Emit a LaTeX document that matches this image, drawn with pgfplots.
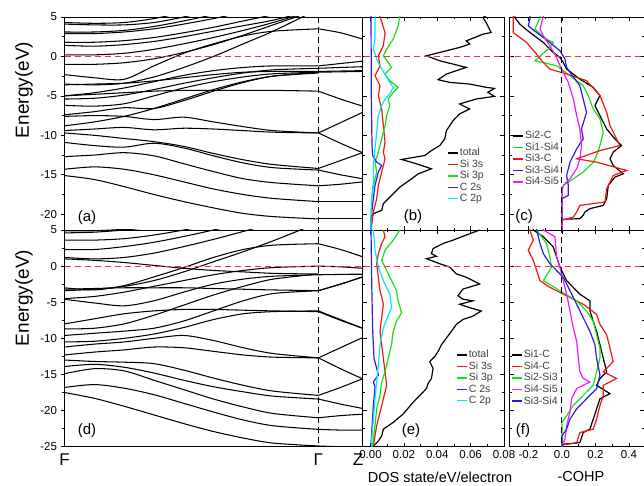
\documentclass[border=0pt]{standalone}
\usepackage{fontspec}
\setmainfont{Liberation Sans}
\usepackage{pgfplots}
\usepackage{pgfplotstable}
\pgfplotsset{compat=1.18}
\definecolor{cred}{RGB}{245,20,20}
\definecolor{cgreen}{RGB}{20,225,20}
\definecolor{cblue}{RGB}{40,30,225}
\definecolor{ccyan}{RGB}{0,230,250}
\definecolor{cmag}{RGB}{250,20,250}
\definecolor{zred}{RGB}{250,40,70}

\pgfplotsset{
  legend image code/.code={\draw[#1, line width=1.5pt] (0pt,0pt) -- (10pt,0pt);},
  base/.style={scale only axis, anchor=south west, clip mode=individual,
    axis line style={line width=0.8pt},
    every tick/.style={black, line width=0.6pt},
    major tick length=4pt, minor tick length=2.2pt,
    tick label style={font=\fontsize{11.5}{13}\selectfont},
    scaled x ticks=false, scaled y ticks=false,
    /pgf/number format/assume math mode=true},
  bd/.style={black, line width=1.05pt, smooth, tension=0.5, forget plot},
  dl/.style={line width=1.2pt},
  zl/.style={zred, line width=1pt, dash pattern=on 6pt off 4pt, forget plot},
  gl/.style={black, line width=1pt, dash pattern=on 6pt off 4pt, forget plot},
  lg/.style={legend style={at={#1}, anchor=north west, draw=none, fill=none,
      inner sep=0pt, font=\fontsize{10.5}{11}\selectfont, text=black!75,
      row sep=0pt, nodes={inner sep=1.2pt}},
    legend cell align=left},
}

\pgfplotstableread{
k A1 A2 A3 A4 A5 A6 A7 H L0 L1 C1 C2 C3 C4 D1 R1 R2 M1 M2 N1 N2 N3 B2 B1
0 4.3 4.1 3.1 2.9 1.8 1.4 0.2 -2.3 -1.0 -3.5 -5.0 -5.4 -3.6 -6.2 -5.0 -7.4 -8.8 -7.6 -9.4 -9.7 -10.9 -12.7 -14.3 -15.1
0.1 4.2 4.0 3.1 2.9 1.8 1.3 0.2 -2.7 -1.0 -3.6 -4.6 -5.3 -3.5 -6.3 -4.8 -7.0 -8.3 -7.5 -9.2 -10.0 -11.3 -12.5 -14.0 -15.6
0.2 4.3 4.0 3.3 3.1 2.0 1.5 0.4 -2.9 -0.8 -3.4 -4.0 -4.9 -3.4 -6.0 -4.6 -6.5 -7.6 -7.6 -9.0 -10.4 -11.5 -12.2 -14.3 -16.5
0.3 4.8 4.3 3.8 3.5 2.4 1.9 0.9 -1.2 -0.3 -2.6 -3.2 -4.2 -3.1 -5.0 -4.4 -6.6 -6.6 -8.0 -9.3 -10.8 -11.0 -12.6 -15.0 -17.5
0.4 5.6 5.0 4.5 4.1 3.0 2.5 1.6 0.4 0.5 -1.4 -2.4 -3.4 -2.7 -4.0 -4.3 -5.6 -5.4 -7.7 -9.1 -11.4 -11.6 -13.6 -15.9 -18.4
0.5 6.5 5.9 5.3 4.8 3.7 3.2 2.4 1.6 1.5 0.0 -1.8 -2.7 -2.3 -3.2 -4.3 -4.4 -4.2 -8.3 -9.2 -12.3 -12.6 -14.6 -16.8 -19.2
0.6 7.4 6.8 6.2 5.6 4.5 3.9 3.3 2.6 2.7 1.6 -1.4 -2.1 -2.0 -2.6 -4.3 -3.3 -3.2 -8.9 -9.4 -13.1 -13.5 -15.5 -17.5 -19.9
0.7 8.3 7.7 7.1 6.5 5.3 4.6 4.3 3.2 4.0 3.2 -1.2 -1.7 -1.9 -2.2 -4.3 -2.5 -2.5 -9.4 -9.6 -13.7 -14.1 -16.0 -18.0 -20.3
0.852 9.5 9.0 8.5 8.0 6.8 6.0 6.0 3.5 6.0 6.0 -1.2 -1.5 -1.9 -2.0 -4.4 -2.0 -2.1 -9.7 -9.7 -14.2 -14.4 -16.4 -18.4 -20.6
}\tabAFG
\pgfplotstableread{
k H C1 C2 C3 C4 D1 M1 M2 N1 N2 N3 B2 B1
0.852 3.5 -1.2 -1.5 -1.9 -2.0 -4.4 -9.7 -9.7 -14.2 -14.4 -16.4 -18.4 -20.6
0.926 3.0 -0.9 -1.4 -1.85 -1.95 -5.4 -8.4 -11.0 -13.2 -15.0 -16.2 -18.4 -20.6
1 2.2 -0.6 -1.3 -1.8 -1.9 -6.3 -7.1 -12.2 -12.2 -15.5 -15.9 -18.4 -20.6
}\tabAGZ
\pgfplotstableread{
k T1 T2 T3 T4 T5 T6 H L1 L2 L3 F1 G1 R1 R2 M3 M1 M2 P1 P2 P3 P4 P5
0 4.9 4.6 3.6 2.3 1.2 1.0 -3.0 -3.4 -4.5 -4.6 -3.2 -8.0 -8.7 -9.6 -10.5 -11.2 -12.3 -13.0 -13.9 -14.9 -16.8 -17.5
0.1 4.9 4.7 3.6 2.3 1.0 0.8 -3.3 -3.2 -4.2 -5.1 -3.1 -7.3 -8.6 -9.3 -10.4 -10.8 -11.9 -13.2 -13.6 -14.2 -16.4 -18.3
0.2 5.1 5.0 3.8 2.7 1.2 0.5 -2.7 -2.8 -3.6 -5.5 -3.0 -6.6 -8.0 -9.0 -10.0 -10.5 -11.6 -13.3 -14.0 -14.5 -16.9 -19.4
0.3 5.5 5.4 4.3 3.3 1.8 0.1 -1.5 -2.0 -2.8 -4.8 -3.0 -6.2 -6.8 -8.6 -9.4 -10.0 -11.2 -13.5 -14.8 -15.8 -17.8 -20.6
0.4 6.0 6.0 5.0 4.1 2.7 -0.3 -0.2 -0.8 -2.0 -3.6 -3.0 -6.0 -5.4 -7.6 -8.5 -9.6 -11.3 -14.4 -15.8 -17.1 -19.0 -21.8
0.5 6.5 6.6 5.8 5.0 3.7 -0.6 1.2 0.6 -1.2 -2.5 -3.1 -6.0 -4.0 -6.2 -7.4 -10.3 -11.8 -15.5 -16.7 -18.4 -20.2 -22.9
0.6 7.0 7.2 6.6 5.9 4.8 -0.8 2.3 2.0 -0.6 -1.8 -3.2 -6.1 -2.8 -4.8 -6.6 -11.3 -12.3 -16.5 -17.4 -19.5 -21.3 -23.8
0.7 7.5 7.8 7.4 6.8 5.9 -1.0 2.9 3.5 -0.2 -1.4 -3.3 -6.2 -1.8 -3.8 -6.3 -12.1 -12.6 -17.3 -18.0 -20.4 -22.1 -24.5
0.852 8.0 8.5 8.5 8.0 7.5 -1.1 3.1 6.0 0.0 -1.2 -3.4 -6.3 -1.1 -3.4 -6.2 -12.7 -12.7 -17.9 -18.4 -21.0 -22.6 -24.9
}\tabDFG
\pgfplotstableread{
k T6 H L2 L3 F1 G1 R1 R2 M3 M1 M2 P1 P2 P3 P4 P5
0.852 -1.1 3.1 0.0 -1.2 -3.4 -6.3 -1.1 -3.4 -6.2 -12.7 -12.7 -17.9 -18.4 -21.0 -22.6 -24.9
0.926 -1.1 2.3 -0.1 -1.15 -2.5 -7.5 -1.1 -2.5 -7.4 -11.3 -14.2 -16.8 -19.1 -20.7 -22.7 -25.0
1 -1.1 1.3 -0.3 -1.1 -1.5 -8.6 -1.1 -1.5 -8.6 -9.9 -15.6 -15.6 -19.7 -20.5 -22.7 -25.0
}\tabDGZ

\begin{document}
\begin{tikzpicture}[x=1pt,y=1pt]
\useasboundingbox (0,0) rectangle (644,486);

% ---------- (a) band structure top
\begin{axis}[base, at={(64.5pt,256pt)}, width=298pt, height=213pt,
  xmin=0, xmax=1, ymin=-22, ymax=5, xtick=\empty,
  ytick={-20,-15,-10,-5,0,5}, minor y tick num=1, tick align=outside, ytick pos=left]
\pgfplotsinvokeforeach{A1,A2,A3,A4,A5,A6,A7,H,L0,L1,C1,C2,C3,C4,D1,R1,R2,M1,M2,N1,N2,N3,B2,B1}{
  \addplot[bd] table[x=k,y=#1]{\tabAFG};}
\pgfplotsinvokeforeach{H,C1,C2,C3,C4,D1,M1,M2,N1,N2,N3,B2,B1}{
  \addplot[bd] table[x=k,y=#1]{\tabAGZ};}
\addplot[zl] coordinates {(0,0)(1,0)};
\addplot[gl] coordinates {(0.852,-30)(0.852,10)};
\node[font=\fontsize{15}{15}\selectfont] at (rel axis cs:0.0755,0.056) {(a)};
\end{axis}

% ---------- (d) band structure bottom
\begin{axis}[base, at={(64.5pt,39.3pt)}, width=298pt, height=216.7pt,
  xmin=0, xmax=1, ymin=-25, ymax=5, xtick={0,0.852,1}, xticklabels={F,Γ,{\hspace*{-9pt}Z}},
  xticklabel style={font=\fontsize{17}{17}\selectfont},
  x tick style={draw=none},
  ytick={-25,-20,-15,-10,-5,0,5}, minor y tick num=1, tick align=outside, ytick pos=left]
\pgfplotsinvokeforeach{T1,T2,T3,T4,T5,T6,H,L1,L2,L3,F1,G1,R1,R2,M3,M1,M2,P1,P2,P3,P4,P5}{
  \addplot[bd] table[x=k,y=#1]{\tabDFG};}
\pgfplotsinvokeforeach{T6,H,L2,L3,F1,G1,R1,R2,M3,M1,M2,P1,P2,P3,P4,P5}{
  \addplot[bd] table[x=k,y=#1]{\tabDGZ};}
\addplot[zl] coordinates {(0,0)(1,0)};
\addplot[gl] coordinates {(0.852,-30)(0.852,10)};
\node[font=\fontsize{15}{15}\selectfont] at (rel axis cs:0.0755,0.072) {(d)};
\end{axis}

% ---------- (b) DOS top
\begin{axis}[base, at={(362.5pt,256pt)}, width=141.5pt, height=213pt,
  xmin=-0.0048, xmax=0.08, ymin=-22, ymax=5,
  xtick={0,0.02,0.04,0.06,0.08}, xticklabels={}, minor x tick num=1,
  ytick={-20,-15,-10,-5,0,5}, yticklabels={}, minor y tick num=1, tick align=inside,
  lg={(rel axis cs:0.597,0.39)}]
\addplot[dl, black] coordinates {(0.0694,5.2)(0.0674,4.93)(0.0693,4.30)(0.0723,3.03)(0.0674,2.82)(0.0574,1.98)(0.0594,1.56)(0.0534,1.14)(0.0455,0.72)(0.0335,0.08)(0.0415,-0.55)(0.0495,-0.97)(0.0574,-1.39)(0.0514,-1.81)(0.0455,-2.23)(0.0405,-2.95)(0.0475,-3.29)(0.0594,-3.50)(0.0694,-3.92)(0.0743,-4.05)(0.0703,-4.55)(0.0743,-5.06)(0.0634,-5.39)(0.0534,-6.03)(0.0594,-6.66)(0.0534,-7.29)(0.0495,-8.13)(0.0455,-9.40)(0.0445,-10.45)(0.0415,-11.29)(0.0365,-11.93)(0.0325,-12.56)(0.0186,-13.06)(0.0276,-13.61)(0.0365,-14.24)(0.0286,-14.88)(0.0246,-15.51)(0.0176,-16.56)(0.0126,-17.61)(0.0077,-18.67)(0.0067,-19.51)(0.0017,-19.93)(0.0003,-20.56)(0.0003,-22.2)};
\addplot[dl, cred] coordinates {(0.0057,5.2)(0.0057,5.06)(0.0087,3.03)(0.0077,1.35)(0.0047,0.08)(0.0057,-1.18)(0.0027,-2.44)(0.0057,-3.71)(0.0047,-4.97)(0.0067,-6.66)(0.0077,-8.77)(0.0087,-10.87)(0.0077,-12.14)(0.0087,-12.98)(0.0067,-14.66)(0.0047,-16.35)(0.0037,-18.04)(0.0017,-19.72)(0.0007,-21.41)(0.0005,-22.2)};
\addplot[dl, cgreen] coordinates {(0.0176,5.2)(0.0176,5.06)(0.0166,3.88)(0.0136,2.19)(0.0097,0.93)(0.0077,0.08)(0.0106,-0.76)(0.0126,-1.39)(0.0087,-2.23)(0.0116,-3.08)(0.0166,-3.92)(0.0136,-4.55)(0.0106,-5.39)(0.0116,-6.24)(0.0097,-7.50)(0.0087,-8.77)(0.0067,-10.45)(0.0047,-12.14)(0.0027,-13.40)(0.0037,-14.66)(0.0017,-16.35)(0.0007,-18.04)(0.0003,-20.56)(0.0003,-22.2)};
\addplot[dl, cblue] coordinates {(0.0003,5.2)(0.0005,-5.39)(0.0009,-11.29)(0.0013,-12.56)(0.0037,-13.40)(0.0067,-13.82)(0.0047,-14.66)(0.0027,-16.35)(0.0017,-18.04)(0.0003,-20.56)(0.0003,-22.2)};
\addplot[dl, ccyan] coordinates {(0.0027,5.2)(0.0027,2.19)(0.0017,0.93)(0.0037,-0.34)(0.0067,-1.60)(0.0097,-2.65)(0.0136,-3.92)(0.0116,-4.76)(0.0087,-5.39)(0.0067,-6.24)(0.0047,-7.50)(0.0037,-9.61)(0.0027,-11.72)(0.0017,-13.82)(0.0017,-15.93)(0.0007,-18.04)(0.0003,-20.56)(0.0003,-22.2)};
\legend{total, Si 3s, Si 3p, C 2s, C 2p}
\addplot[zl] coordinates {(-0.01,0)(0.09,0)};
\node[font=\fontsize{15}{15}\selectfont] at (rel axis cs:0.357,0.061) {(b)};
\end{axis}

% ---------- (e) DOS bottom
\begin{axis}[base, at={(362.5pt,39.3pt)}, width=141.5pt, height=216.7pt,
  xmin=-0.0048, xmax=0.08, ymin=-25, ymax=5,
  xtick={0,0.02,0.04,0.06,0.08}, minor x tick num=1,
  xticklabel style={/pgf/number format/fixed, /pgf/number format/fixed zerofill, /pgf/number format/precision=2},
  ytick={-25,-20,-15,-10,-5,0,5}, yticklabels={}, minor y tick num=1, tick align=inside,
  lg={(rel axis cs:0.66,0.451)}]
\addplot[dl, black] coordinates {(0.0654,5.0)(0.0574,4.30)(0.0495,3.60)(0.0435,3.13)(0.0375,2.43)(0.0365,1.73)(0.0395,1.36)(0.0335,1.03)(0.0415,0.33)(0.0475,-0.14)(0.0514,-1.07)(0.0574,-1.54)(0.0614,-2.01)(0.0654,-2.48)(0.0554,-3.18)(0.0524,-4.11)(0.0554,-4.58)(0.0614,-4.81)(0.0534,-5.28)(0.0594,-5.75)(0.0664,-6.21)(0.0614,-6.92)(0.0554,-7.38)(0.0514,-8.08)(0.0485,-9.02)(0.0455,-9.95)(0.0425,-10.89)(0.0405,-11.82)(0.0385,-12.52)(0.0355,-13.22)(0.0375,-14.16)(0.0365,-15.56)(0.0345,-16.26)(0.0335,-16.96)(0.0296,-17.90)(0.0256,-18.83)(0.0196,-20.47)(0.0136,-21.64)(0.0077,-22.57)(0.0067,-23.50)(0.0047,-24.21)(0.0017,-24.91)};
\addplot[dl, cred] coordinates {(0.0077,5.0)(0.0087,4.07)(0.0067,3.13)(0.0047,1.73)(0.0037,0.33)(0.0047,-1.54)(0.0057,-3.41)(0.0077,-5.28)(0.0067,-7.15)(0.0057,-9.02)(0.0067,-10.89)(0.0077,-12.76)(0.0087,-14.63)(0.0097,-16.50)(0.0077,-18.36)(0.0057,-20.23)(0.0037,-22.10)(0.0027,-23.50)(0.0017,-24.91)};
\addplot[dl, cgreen] coordinates {(0.0176,5.0)(0.0136,3.60)(0.0087,2.20)(0.0067,0.79)(0.0097,-0.61)(0.0126,-2.01)(0.0156,-3.41)(0.0166,-4.81)(0.0186,-6.45)(0.0156,-7.62)(0.0136,-9.02)(0.0126,-10.89)(0.0106,-12.76)(0.0087,-14.63)(0.0067,-16.03)(0.0057,-17.90)(0.0037,-19.77)(0.0027,-22.10)(0.0017,-23.97)(0.0010,-25)};
\addplot[dl, cblue] coordinates {(0.0003,5.0)(0.0007,-2.01)(0.0013,-9.02)(0.0021,-12.76)(0.0037,-14.16)(0.0047,-15.09)(0.0017,-16.03)(0.0027,-16.73)(0.0017,-19.30)(0.0007,-23.04)(0.0003,-25)};
\addplot[dl, ccyan] coordinates {(0.0017,5.0)(0.0027,2.20)(0.0047,-0.14)(0.0077,-2.01)(0.0116,-3.88)(0.0126,-5.75)(0.0106,-6.92)(0.0077,-8.55)(0.0057,-10.89)(0.0047,-13.69)(0.0037,-16.03)(0.0027,-18.36)(0.0017,-21.17)(0.0007,-23.97)(0.0005,-25)};
\legend{total, Si 3s, Si 3p, C 2s, C 2p}
\addplot[zl] coordinates {(-0.01,0)(0.09,0)};
\node[font=\fontsize{15}{15}\selectfont] at (rel axis cs:0.343,0.072) {(e)};
\end{axis}

% ---------- (c) COHP top
\begin{axis}[base, at={(509.5pt,256pt)}, width=134.5pt, height=213pt,
  xmin=-0.313, xmax=0.49, ymin=-22, ymax=5,
  xtick={-0.2,0,0.2,0.4}, xticklabels={}, minor x tick num=1,
  ytick={-20,-15,-10,-5,0,5}, yticklabels={}, minor y tick num=1, tick align=inside,
  lg={(rel axis cs:0.02,0.47)}]
\addplot[dl, black] coordinates {(-0.281,5.2)(-0.281,4.93)(-0.251,4.09)(-0.191,3.03)(-0.111,1.77)(-0.052,0.51)(-0.012,-0.13)(0.008,-0.76)(0.028,-1.60)(0.107,-2.87)(0.187,-3.92)(0.227,-4.97)(0.197,-6.24)(0.227,-7.50)(0.267,-9.19)(0.316,-10.45)(0.356,-11.29)(0.306,-12.14)(0.287,-12.98)(0.306,-13.82)(0.366,-14.88)(0.316,-15.30)(0.277,-16.35)(0.267,-18.04)(0.247,-18.88)(0.167,-19.30)(0.137,-19.72)(0.127,-20.14)(0.107,-20.56)(0,-20.65)(0,-22)};
\addplot[dl, cgreen] coordinates {(-0.131,5.2)(-0.131,4.93)(-0.161,3.46)(-0.092,2.19)(-0.052,1.77)(-0.072,1.14)(-0.161,-0.55)(-0.032,-1.18)(0.048,-2.44)(0.127,-3.71)(0.157,-4.97)(0.187,-6.66)(0.227,-7.92)(0.247,-9.61)(0.227,-11.29)(0.207,-12.56)(0.187,-13.40)(0.127,-14.66)(0.068,-15.51)(0.008,-16.35)(0,-17.19)(0,-22)};
\addplot[dl, cred] coordinates {(-0.291,5.2)(-0.291,3.03)(-0.211,1.77)(-0.151,0.29)(-0.121,-0.55)(-0.072,-1.60)(0.028,-2.23)(0.147,-3.08)(0.227,-4.97)(0.267,-7.08)(0.287,-8.77)(0.346,-11.29)(0.227,-11.93)(0.088,-12.98)(0.207,-13.40)(0.386,-14.45)(0.306,-15.09)(0.267,-16.77)(0.257,-18.46)(0.107,-18.88)(0.088,-19.72)(0.068,-20.35)(0,-20.78)(0,-22)};
\addplot[dl, cblue] coordinates {(-0.191,5.2)(-0.191,4.72)(-0.201,3.88)(-0.151,3.03)(-0.072,1.77)(-0.012,0.72)(0.018,-0.34)(0.028,-1.39)(0.048,-2.02)(0.107,-3.71)(0.127,-5.39)(0.147,-7.08)(0.117,-9.19)(0.127,-10.45)(0.088,-11.72)(0.048,-13.40)(0.028,-15.09)(0.038,-16.35)(0.038,-17.61)(0,-18.04)(0,-22)};
\addplot[dl, cmag] coordinates {(-0.111,5.2)(-0.111,5.14)(-0.131,3.46)(-0.111,2.61)(-0.072,1.35)(-0.032,-0.13)(-0.012,-1.18)(0.038,-3.29)(0.068,-5.39)(0.088,-7.50)(0.107,-9.19)(0.117,-11.29)(0.107,-12.98)(0.088,-14.24)(0.048,-15.51)(0.008,-16.35)(0,-17.19)(0,-22)};
\legend{Si2-C, Si1-Si4, Si3-C, Si3-Si4, Si4-Si5}
\addplot[zl] coordinates {(-0.4,0)(0.6,0)};
\addplot[gl] coordinates {(0,-30)(0,10)};
\node[font=\fontsize{15}{15}\selectfont] at (rel axis cs:0.108,0.061) {(c)};
\end{axis}

% ---------- (f) COHP bottom
\begin{axis}[base, at={(509.5pt,39.3pt)}, width=134.5pt, height=216.7pt,
  xmin=-0.313, xmax=0.49, ymin=-25, ymax=5,
  xtick={-0.2,0,0.2,0.4}, minor x tick num=1,
  xticklabel style={/pgf/number format/fixed, /pgf/number format/fixed zerofill, /pgf/number format/precision=1},
  ytick={-25,-20,-15,-10,-5,0,5}, yticklabels={}, minor y tick num=1, tick align=inside,
  lg={(rel axis cs:0.01,0.451)}]
\addplot[dl, black] coordinates {(-0.171,5.2)(-0.171,5.0)(-0.111,4.07)(-0.052,2.66)(-0.032,1.26)(-0.012,-0.14)(0.028,-2.01)(0.107,-3.88)(0.167,-4.81)(0.167,-6.21)(0.187,-7.62)(0.207,-9.02)(0.227,-10.89)(0.247,-12.76)(0.267,-14.63)(0.227,-15.56)(0.207,-16.50)(0.287,-17.66)(0.227,-18.36)(0.207,-19.77)(0.187,-21.17)(0.167,-22.57)(0.127,-23.04)(0.107,-24.44)(0,-24.67)(0,-25)};
\addplot[dl, cred] coordinates {(-0.191,5.2)(-0.191,5.0)(-0.171,3.60)(-0.201,2.20)(-0.171,0.79)(-0.151,-0.61)(-0.131,-2.01)(-0.072,-2.94)(0.028,-4.11)(0.127,-5.28)(0.207,-6.68)(0.227,-8.08)(0.267,-9.49)(0.287,-11.36)(0.306,-13.22)(0.247,-14.63)(0.326,-15.56)(0.247,-16.50)(0.247,-17.90)(0.227,-19.30)(0.207,-21.17)(0.187,-22.57)(0.107,-23.04)(0.088,-24.44)(0,-24.81)(0,-25)};
\addplot[dl, cgreen] coordinates {(-0.151,5.2)(-0.151,5.0)(-0.092,3.13)(-0.072,1.26)(-0.062,-0.14)(-0.111,-2.01)(-0.012,-3.41)(0.088,-4.81)(0.147,-6.21)(0.187,-7.62)(0.207,-9.49)(0.227,-11.36)(0.227,-12.76)(0.207,-14.63)(0.187,-16.50)(0.127,-17.90)(0.068,-19.30)(0.028,-20.70)(0,-21.64)(0,-25)};
\addplot[dl, cmag] coordinates {(-0.111,5.2)(-0.111,5.0)(-0.042,4.07)(-0.032,1.26)(-0.012,-0.14)(0.008,-2.01)(0.028,-3.88)(0.048,-6.21)(0.068,-8.55)(0.088,-10.42)(0.098,-12.76)(0.107,-14.63)(0.127,-15.56)(0.167,-16.03)(0.088,-16.96)(0.058,-18.36)(0.048,-20.23)(0.028,-22.10)(0.018,-23.97)(0,-24.91)(0,-25)};
\addplot[dl, cblue] coordinates {(-0.151,5.2)(-0.151,5.0)(-0.131,3.13)(-0.111,1.73)(-0.072,0.33)(0.008,-1.54)(0.048,-3.41)(0.088,-5.28)(0.127,-7.15)(0.167,-9.02)(0.197,-10.89)(0.207,-12.76)(0.227,-15.09)(0.207,-16.96)(0.147,-18.36)(0.088,-19.77)(0.048,-21.17)(0.028,-22.57)(0,-23.50)(0,-25)};
\legend{Si1-C, Si4-C, Si2-Si3, Si4-Si5, Si3-Si4}
\addplot[zl] coordinates {(-0.4,0)(0.6,0)};
\addplot[gl] coordinates {(0,-30)(0,10)};
\node[font=\fontsize{15}{15}\selectfont] at (rel axis cs:0.10,0.072) {(f)};
\end{axis}

\node[rotate=90, font=\fontsize{19}{19}\selectfont] at (24,396) {Energy(eV)};
\node[rotate=90, font=\fontsize{19}{19}\selectfont] at (24,188) {Energy(eV)};
\node[font=\fontsize{14.5}{15}\selectfont] at (440,9) {DOS state/eV/electron};
\node[font=\fontsize{14.5}{15}\selectfont] at (581,9) {-COHP};
\end{tikzpicture}
\end{document}
